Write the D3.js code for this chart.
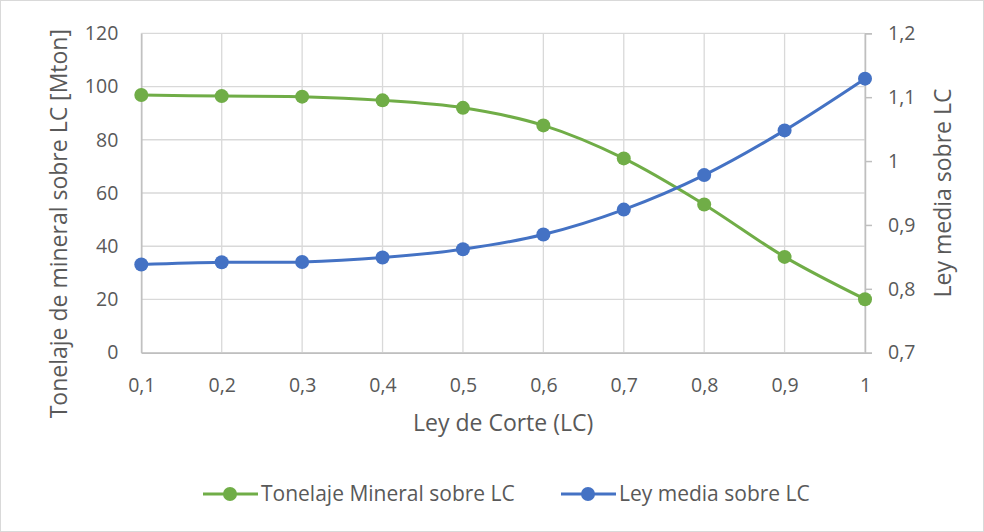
<!DOCTYPE html>
<html><head><meta charset="utf-8">
<script src="https://cdn.jsdelivr.net/npm/d3@7"></script>
<style>body{margin:0;background:#fff}svg{display:block;font-family:"Open Sans","Liberation Sans",sans-serif}</style>
</head><body><svg id="c" width="984" height="532"></svg>
<script>
const categories = [0.1,0.2,0.3,0.4,0.5,0.6,0.7,0.8,0.9,1];
const categoryLabels = ["0,1","0,2","0,3","0,4","0,5","0,6","0,7","0,8","0,9","1"];
const tonelaje = [96.8,96.4,96.2,94.8,92.0,85.4,73.0,55.7,36.0,20.1];
const leyMedia = [0.838,0.8415,0.842,0.849,0.862,0.885,0.924,0.978,1.048,1.129];
const leftTicks = [0,20,40,60,80,100,120];
const rightTicks = [0.7,0.8,0.9,1.0,1.1,1.2];
const rightTickLabels = ["0,7","0,8","0,9","1","1,1","1,2"];
const seriesNames = ["Tonelaje Mineral sobre LC","Ley media sobre LC"];

const svg = d3.select("#c");
const W=984,H=532;
svg.append("rect").attr("x",0.5).attr("y",0.5).attr("width",W-1).attr("height",H-1).attr("fill","#fff").attr("stroke","#d9d9d9");
const L=141.3,R=865,T=33.3,B=352.7;
const x = d3.scalePoint().domain(categories).range([L,R]);
const yL = d3.scaleLinear().domain([0,120]).range([B,T]);
const yR = d3.scaleLinear().domain([0.7,1.2]).range([B,T]);
const grid="#d9d9d9", txt="#595959";
const g = svg.append("g");
g.selectAll(".hg").data(leftTicks).join("line").attr("x1",L).attr("x2",R).attr("y1",d=>yL(d)).attr("y2",d=>yL(d)).attr("stroke",grid).attr("stroke-width",1.3);
g.selectAll(".vg").data(categories).join("line").attr("x1",d=>x(d)).attr("x2",d=>x(d)).attr("y1",T).attr("y2",B).attr("stroke",grid).attr("stroke-width",1.3);
const ax=d3.axisLeft(yL).tickValues(leftTicks).tickSize(0).tickPadding(23);
const gl=svg.append("g").attr("transform",`translate(${L},0)`).call(ax);
const axR=d3.axisRight(yR).tickValues(rightTicks).tickFormat((d,i)=>rightTickLabels[i]).tickSize(7).tickPadding(16);
const gr=svg.append("g").attr("transform",`translate(${R},0)`).call(axR);
const axB=d3.axisBottom(x).tickFormat((d,i)=>categoryLabels[i]).tickSize(0).tickPadding(25);
const gb=svg.append("g").attr("transform",`translate(0,${B})`).call(axB);
[gl,gr,gb].forEach(a=>{a.select(".domain").attr("stroke","#bfbfbf").attr("stroke-width",1.5);a.selectAll("line").attr("stroke","#bfbfbf").attr("stroke-width",1.5);a.selectAll("text").attr("fill",txt).attr("font-size",19.5).attr("font-family","'Open Sans','Liberation Sans',sans-serif");});
svg.append("text").attr("transform",`translate(66.5,223.7) rotate(-90)`).attr("text-anchor","middle").attr("fill",txt).attr("font-size",23).text("Tonelaje de mineral sobre LC [Mton]");
svg.append("text").attr("transform",`translate(951,${(T+B)/2}) rotate(-90)`).attr("text-anchor","middle").attr("fill",txt).attr("font-size",23).text("Ley media sobre LC");
svg.append("text").attr("x",(L+R)/2).attr("y",431).attr("text-anchor","middle").attr("fill",txt).attr("font-size",23).text("Ley de Corte (LC)");
const green="#70AD47", blue="#4472C4";
const series=[{v:tonelaje,y:yL,c:green},{v:leyMedia,y:yR,c:blue}];
series.forEach(s=>{
  const line=d3.line().x((d,i)=>x(categories[i])).y(d=>s.y(d)).curve(d3.curveCatmullRom.alpha(0.5));
  svg.append("path").attr("d",line(s.v)).attr("fill","none").attr("stroke",s.c).attr("stroke-width",3);
  svg.append("g").selectAll("circle").data(s.v).join("circle").attr("cx",(d,i)=>x(categories[i])).attr("cy",d=>s.y(d)).attr("r",7).attr("fill",s.c);
});
const leg=[{x:203,c:green,t:seriesNames[0]},{x:561,c:blue,t:seriesNames[1]}];
const ly=494;
leg.forEach(l=>{
  svg.append("line").attr("x1",l.x).attr("x2",l.x+55).attr("y1",ly).attr("y2",ly).attr("stroke",l.c).attr("stroke-width",3);
  svg.append("circle").attr("cx",l.x+27).attr("cy",ly).attr("r",7).attr("fill",l.c);
  svg.append("text").attr("x",l.x+58).attr("y",ly+7).attr("fill",txt).attr("font-size",21).text(l.t);
});
</script></body></html>
